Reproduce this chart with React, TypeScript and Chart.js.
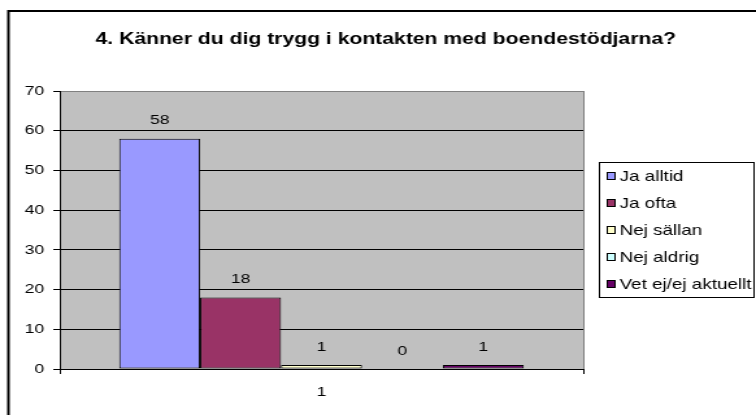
import React, { useEffect, useRef } from 'react';
import { Chart, registerables } from 'chart.js';

Chart.register(...registerables);

const TITLE = '4. Känner du dig trygg i kontakten med boendestödjarna?';
const categories = ['1'];
const seriesNames = ['Ja alltid', 'Ja ofta', 'Nej sällan', 'Nej aldrig', 'Vet ej/ej aktuellt'];
const seriesValues = [58, 18, 1, 0, 1];
const seriesColors = ['#9999FF', '#993366', '#FFFFCC', '#CCFFFF', '#660066'];
const yMin = 0;
const yMax = 70;
const yStep = 10;

// The reference is horizontally stretched; draw on a narrower canvas and stretch it with CSS.
const W = 582;
const H = 415;
const DISPLAY_W = 756;
const FONT = '"Liberation Sans", Arial, sans-serif';
const FS = 13.5;
const LEGEND_FS = 14.5;

const framePlugin = {
  id: 'frame',
  beforeDraw(chart: any) {
    const { ctx, chartArea: a } = chart;
    ctx.save();
    ctx.fillStyle = '#ffffff';
    ctx.fillRect(0, 0, chart.width, chart.height);
    ctx.fillStyle = '#C0C0C0';
    ctx.fillRect(a.left, a.top, a.right - a.left, a.bottom - a.top);
    ctx.strokeStyle = '#000';
    ctx.lineWidth = 2;
    ctx.beginPath();
    ctx.moveTo(6.5, chart.height);
    ctx.lineTo(6.5, 11);
    ctx.lineTo(chart.width, 11);
    ctx.stroke();
    ctx.fillStyle = '#000';
    ctx.font = `bold 16.3px ${FONT}`;
    ctx.textAlign = 'center';
    ctx.textBaseline = 'middle';
    ctx.fillText(TITLE, 297, 40);
    ctx.restore();
  },
  afterDatasetsDraw(chart: any) {
    const { ctx } = chart;
    ctx.save();
    ctx.fillStyle = '#000';
    ctx.font = `${FS}px ${FONT}`;
    ctx.textAlign = 'center';
    ctx.textBaseline = 'middle';
    chart.data.datasets.forEach((ds: any, i: number) => {
      const meta = chart.getDatasetMeta(i);
      meta.data.forEach((el: any, j: number) => {
        ctx.fillText(String(ds.data[j]), el.x, el.y - 18);
      });
    });
    ctx.restore();
  },
  afterDraw(chart: any) {
    const { ctx, chartArea: a } = chart;
    ctx.save();
    // plot area right border
    ctx.strokeStyle = '#808080';
    ctx.lineWidth = 1;
    ctx.beginPath();
    ctx.moveTo(Math.round(a.right) + 0.5, a.top);
    ctx.lineTo(Math.round(a.right) + 0.5, a.bottom);
    ctx.stroke();
    // legend
    const lx = 461.5, ly = 162.5, lw = 119, lh = 135;
    ctx.fillStyle = '#fff';
    ctx.fillRect(lx, ly, lw, lh);
    ctx.strokeStyle = '#000';
    ctx.strokeRect(lx, ly, lw, lh);
    ctx.font = `${LEGEND_FS}px ${FONT}`;
    ctx.textAlign = 'left';
    ctx.textBaseline = 'middle';
    chart.data.datasets.forEach((ds: any, i: number) => {
      const cy = 176 + i * 27;
      ctx.fillStyle = ds.backgroundColor;
      ctx.fillRect(467.5, cy - 3.5, 6, 7);
      ctx.strokeStyle = '#000';
      ctx.strokeRect(467.5, cy - 3.5, 6, 7);
      ctx.fillStyle = '#000';
      ctx.fillText(ds.label, 477, cy + 0.5);
    });
    ctx.restore();
  },
};

export default function App() {
  const ref = useRef<HTMLCanvasElement | null>(null);

  useEffect(() => {
    if (!ref.current) return;
    const chart = new Chart(ref.current, {
      type: 'bar',
      data: {
        labels: categories,
        datasets: seriesNames.map((name, i) => ({
          label: name,
          data: [seriesValues[i]],
          backgroundColor: seriesColors[i],
          borderColor: '#000',
          borderWidth: seriesValues[i] === 0 ? 0 : 1,
          borderSkipped: false,
          categoryPercentage: 0.773,
          barPercentage: 1,
        })),
      },
      options: {
        responsive: false,
        animation: false,
        devicePixelRatio: 1,
        events: [],
        layout: { padding: { left: 0, right: 133, top: 91, bottom: 0 } },
        plugins: {
          legend: { display: false },
          title: { display: false },
          tooltip: { enabled: false },
        },
        scales: {
          x: {
            type: 'category',
            offset: true,
            grid: {
              drawOnChartArea: false,
              tickLength: 5,
              color: '#000',
              offset: true,
            },
            border: { color: '#000', width: 1 },
            ticks: { color: '#000', font: { family: FONT, size: FS }, padding: 10 },
            afterFit: (s: any) => {
              s.height = 46;
            },
          },
          y: {
            min: yMin,
            max: yMax,
            ticks: {
              stepSize: yStep,
              color: '#000',
              padding: 7,
              font: { family: FONT, size: FS },
            },
            grid: {
              tickLength: 5,
              tickColor: '#000',
              color: (c: any) => (c.tick && c.tick.value === yMax ? '#808080' : '#000'),
            },
            border: { color: '#000', width: 1 },
            afterFit: (s: any) => {
              s.width = 46;
            },
          },
        },
      },
      plugins: [framePlugin],
    } as any);
    return () => chart.destroy();
  }, []);

  return (
    <div style={{ position: 'absolute', left: 0, top: 0, width: DISPLAY_W, height: H, overflow: 'hidden' }}>
      <canvas
        ref={ref}
        width={W}
        height={H}
        style={{ width: `${DISPLAY_W}px`, height: `${H}px`, display: 'block' }}
      />
    </div>
  );
}
